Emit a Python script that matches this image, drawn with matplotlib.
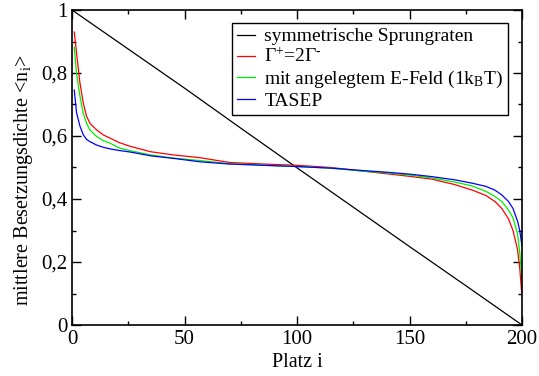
"""Mittlere Besetzungsdichte entlang der Kette fuer verschiedene Sprungraten."""

import matplotlib

matplotlib.use("Agg")

import matplotlib.pyplot as plt
from matplotlib.ticker import FuncFormatter, MultipleLocator


# Platz i (gemeinsam fuer die drei getriebenen Kurven)
PLATZ = [1, 2, 3.5, 5, 6.5, 8, 11, 14, 17, 21, 26, 35, 45, 57, 70, 85, 100,
         115, 130, 140, 150, 160, 170, 178, 184, 188, 191, 194, 196, 198, 199, 200]

DICHTE_ASYM = [0.930, 0.865, 0.770, 0.705, 0.662, 0.640, 0.619, 0.603, 0.593,
               0.579, 0.567, 0.550, 0.540, 0.531, 0.516, 0.511, 0.507, 0.500,
               0.488, 0.480, 0.472, 0.463, 0.446, 0.428, 0.411, 0.392, 0.370,
               0.337, 0.300, 0.240, 0.180, 0.090]

DICHTE_EFELD = [0.882, 0.800, 0.728, 0.672, 0.640, 0.619, 0.598, 0.585, 0.577,
                0.562, 0.553, 0.540, 0.530, 0.522, 0.512, 0.507, 0.503, 0.498,
                0.488, 0.483, 0.476, 0.467, 0.454, 0.441, 0.424, 0.408, 0.392,
                0.365, 0.340, 0.290, 0.230, 0.140]

DICHTE_TASEP = [0.746, 0.675, 0.632, 0.604, 0.589, 0.582, 0.571, 0.564, 0.559,
                0.554, 0.549, 0.537, 0.529, 0.518, 0.511, 0.507, 0.503, 0.498,
                0.490, 0.485, 0.479, 0.471, 0.461, 0.450, 0.440, 0.428, 0.413,
                0.392, 0.370, 0.330, 0.300, 0.250]

# symmetrische Sprungraten: nahezu linearer Abfall
PLATZ_SYM = [0, 25, 50, 75, 100, 125, 150, 175, 200]
DICHTE_SYM = [1.0, 0.876, 0.752, 0.625, 0.499, 0.374, 0.249, 0.125, 0.0]

LABELS = [
    "symmetrische Sprungraten",
    r"$\mathregular{\Gamma^{+}}$=2$\mathregular{\Gamma^{‐}}$",
    r"mit angelegtem E-Feld (1k$\mathregular{_B}$T)",
    "TASEP",
]


def setup_style() -> None:
    """Schrift im Stil von xmgrace (Times-aehnlich)."""

    plt.rcParams["font.family"] = ["Liberation Serif", "DejaVu Serif"]
    plt.rcParams["mathtext.fontset"] = "custom"
    plt.rcParams["mathtext.rm"] = "Liberation Serif"
    plt.rcParams["mathtext.it"] = "Liberation Serif:italic"
    plt.rcParams["mathtext.bf"] = "Liberation Serif:bold"


def komma(wert, _pos):
    """Dezimalkomma wie in der Vorlage."""

    if abs(wert - round(wert)) < 1e-9:
        return f"{int(round(wert))}"
    return f"{wert:.1f}".replace(".", ",")


def main() -> None:
    setup_style()

    fig = plt.figure(figsize=(5.39, 3.76), dpi=100)
    ax = fig.add_axes([72 / 539, 51 / 376, 450 / 539, 315 / 376])

    ax.plot(PLATZ_SYM, DICHTE_SYM, color="black", lw=0.9, label=LABELS[0])
    ax.plot(PLATZ, DICHTE_ASYM, color="#ff0000", lw=0.9, label=LABELS[1])
    ax.plot(PLATZ, DICHTE_EFELD, color="#00ee00", lw=0.9, label=LABELS[2])
    ax.plot(PLATZ, DICHTE_TASEP, color="#0000ff", lw=0.9, label=LABELS[3])

    ax.set_xlim(0, 200)
    ax.set_ylim(0, 1)
    ax.xaxis.set_major_locator(MultipleLocator(50))
    ax.xaxis.set_minor_locator(MultipleLocator(25))
    ax.yaxis.set_major_locator(MultipleLocator(0.2))
    ax.yaxis.set_minor_locator(MultipleLocator(0.1))
    ax.yaxis.set_major_formatter(FuncFormatter(komma))

    ax.tick_params(which="both", direction="in", top=True, right=True,
                   width=1.0, labelsize=15)
    ax.tick_params(which="major", length=6.5)
    ax.tick_params(which="minor", length=3.2)
    ax.tick_params(axis="x", pad=3.5)
    ax.tick_params(axis="y", pad=3)
    for spine in ax.spines.values():
        spine.set_linewidth(1.2)

    ax.set_xlabel("Platz i", fontsize=14.5, labelpad=3)
    ax.set_ylabel(r"mittlere Besetzungsdichte <n$\mathregular{_i}$>",
                  fontsize=14.5)
    ax.yaxis.set_label_coords(-0.082, 0.46)

    legend = ax.legend(loc="upper right", bbox_to_anchor=(0.969, 0.959),
                       borderaxespad=0, fontsize=14, frameon=True,
                       fancybox=False, edgecolor="black", framealpha=1,
                       handlelength=0.9, handletextpad=0.5,
                       borderpad=0.25, labelspacing=0.12)
    legend.get_frame().set_linewidth(1.0)

    fig.savefig("out.png", dpi=100)
    plt.close(fig)


if __name__ == "__main__":
    main()
